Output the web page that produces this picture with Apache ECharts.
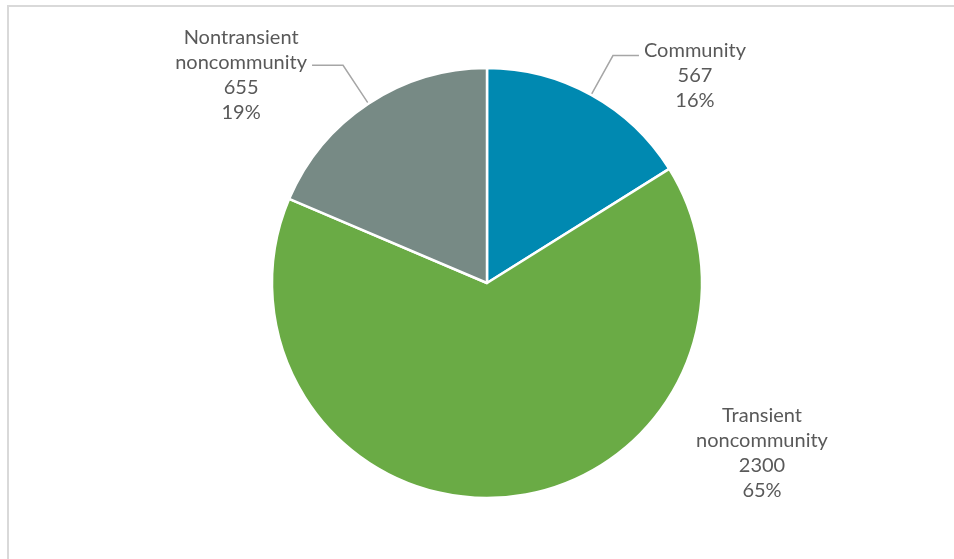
<!DOCTYPE html>
<html>
<head>
<meta charset="utf-8">
<script src="https://cdn.jsdelivr.net/npm/echarts@6/dist/echarts.min.js"></script>
<style>
html,body{margin:0;padding:0;background:#fff;}
#main{width:954px;height:559px;}
</style>
</head>
<body>
<div id="main"></div>
<script>
var categories = ['Community', 'Transient\nnoncommunity', 'Nontransient\nnoncommunity'];
var values = [567, 2300, 655];
var colors = ['#0089b1', '#6aab45', '#778a85'];
var lineLengths = [45, 0, 46];
var lineLengths2 = [26, 0, 31];
var labelPadTop = [40, 0, 20];

var chart = echarts.init(document.getElementById('main'));
var data = categories.map(function (c, i) {
  return {
    name: c,
    value: values[i],
    itemStyle: { color: colors[i] },
    label: { padding: [labelPadTop[i], 0, 0, 0] },
    labelLine: { show: i !== 1, length: lineLengths[i], length2: lineLengths2[i] }
  };
});
chart.setOption({
  animation: false,
  graphic: [{
    type: 'rect',
    shape: { x: 8, y: 6, width: 1000, height: 700 },
    style: { fill: 'none', stroke: '#d9d9d9', lineWidth: 2 },
    silent: true
  }],
  series: [{
    type: 'pie',
    center: [487, 283],
    radius: 215,
    startAngle: 90,
    clockwise: true,
    avoidLabelOverlap: false,
    percentPrecision: 0,
    itemStyle: { borderColor: '#ffffff', borderWidth: 2.5 },
    label: {
      show: true,
      position: 'outside',
      color: '#595959',
      fontFamily: 'Lato',
      fontSize: 20,
      lineHeight: 25,
      formatter: function (p) {
        var lines = p.name.split('\n').concat([String(p.value), p.percent + '%']);
        return lines.map(function (l) { return '{a|' + l + '}'; }).join('\n');
      },
      rich: {
        a: { align: 'center', color: '#595959', fontFamily: 'Lato', fontSize: 20, lineHeight: 25 }
      }
    },
    labelLine: {
      lineStyle: { color: '#a6a6a6', width: 1.5 },
      smooth: false
    },
    labelLayout: function (params) {
      if (params.dataIndex === 1) {
        return { x: 487 + 275, y: 283 + 170, align: 'center', verticalAlign: 'middle' };
      }
    },
    data: data
  }]
});
</script>
</body>
</html>
